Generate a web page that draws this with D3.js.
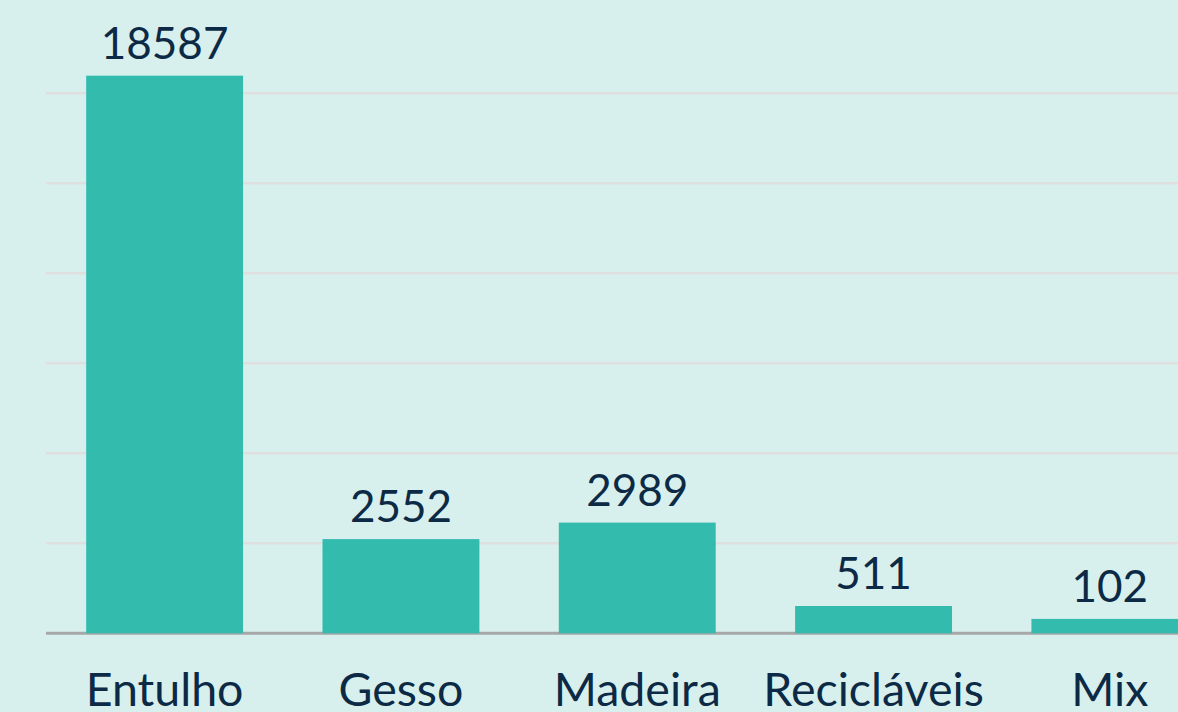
<!DOCTYPE html>
<html>
<head>
<meta charset="utf-8">
<script src="https://cdn.jsdelivr.net/npm/d3@7"></script>
<style>
  html, body { margin: 0; padding: 0; background: #d7f0ed; }
  svg { display: block; overflow: hidden; }
  text { font-family: Lato, "Open Sans", sans-serif; fill: #0c2a45; }
</style>
</head>
<body>
<div id="chart"></div>
<script>
'use strict'
// categories and values
const categories = ['Entulho', 'Gesso', 'Madeira', 'Recicláveis', 'Mix']
// bar heights as read against the gridlines
const barValues = [18587, 3140, 3690, 910, 480]
// data labels as printed above the bars
const valueLabels = ['18587', '2552', '2989', '511', '102']
const gridTicks = [3000, 6000, 9000, 12000, 15000, 18000]

let width = 1178
let height = 712
let baseY = 633.3
let left = 46

let svg = d3.select('#chart').append('svg')
  .attr('width', width)
  .attr('height', height)

let x = d3.scaleBand()
  .domain(categories)
  .range([left, left + 5 * 236.5])
  .paddingInner(0.336)
  .paddingOuter(0.17)

let y = d3.scaleLinear()
  .domain([0, 21110])
  .range([baseY, 0])

// gridlines
svg.append('g')
  .selectAll('line')
  .data(gridTicks)
  .enter()
  .append('line')
  .attr('x1', left)
  .attr('x2', width)
  .attr('y1', d => y(d))
  .attr('y2', d => y(d))
  .style('stroke', '#e0dfdf')
  .style('stroke-width', 2.5)

// baseline
svg.append('line')
  .attr('x1', left)
  .attr('x2', width)
  .attr('y1', baseY)
  .attr('y2', baseY)
  .style('stroke', '#a7a7a7')
  .style('stroke-width', 3)

// bars
svg.append('g')
  .selectAll('rect')
  .data(barValues)
  .enter()
  .append('rect')
  .attr('x', (d, i) => x(categories[i]))
  .attr('y', d => y(d))
  .attr('width', x.bandwidth())
  .attr('height', d => baseY - y(d))
  .style('fill', '#33bbae')

// value labels
svg.append('g')
  .selectAll('text')
  .data(barValues)
  .enter()
  .append('text')
  .attr('x', (d, i) => x(categories[i]) + x.bandwidth() / 2)
  .attr('y', d => y(d) - 17)
  .attr('text-anchor', 'middle')
  .style('font-size', '44px')
  .text((d, i) => valueLabels[i])

// category labels
svg.append('g')
  .selectAll('text')
  .data(categories)
  .enter()
  .append('text')
  .attr('x', d => x(d) + x.bandwidth() / 2)
  .attr('y', 706)
  .attr('text-anchor', 'middle')
  .style('font-size', '46.5px')
  .text(d => d)
</script>
</body>
</html>
